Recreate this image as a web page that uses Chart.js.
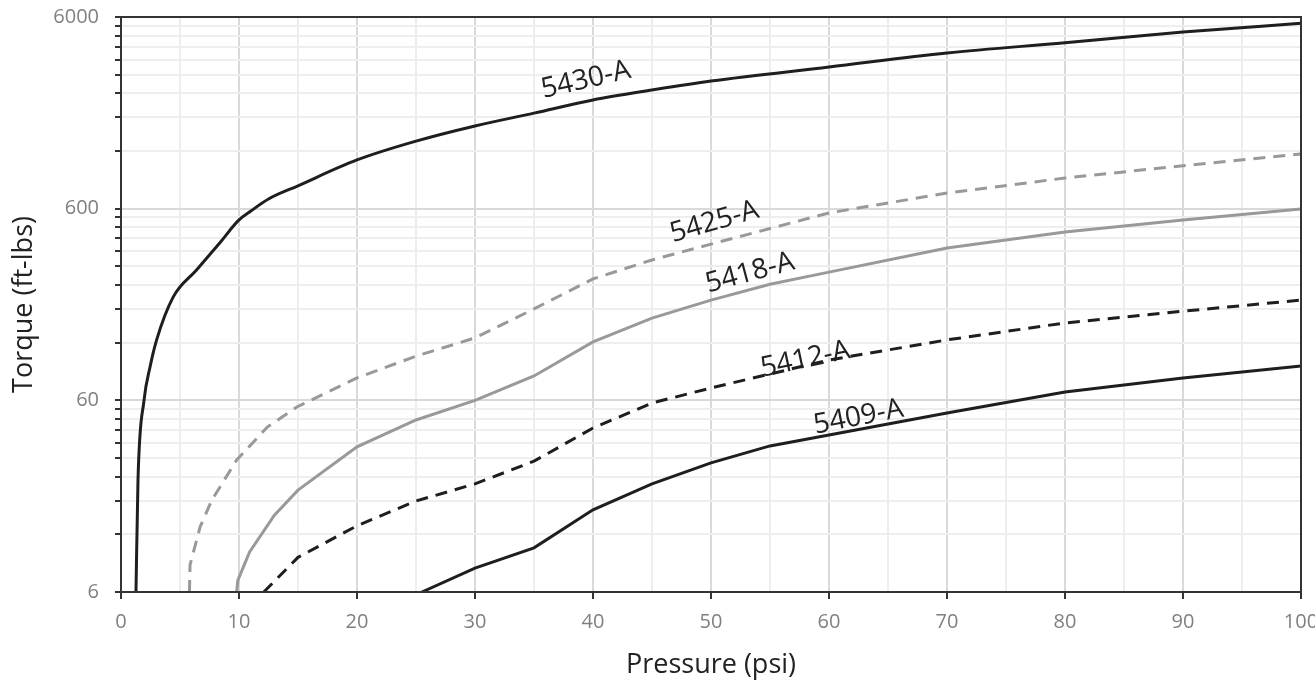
<!DOCTYPE html>
<html lang="en">
<head>
  <meta charset="UTF-8">
  <title>Torque vs Pressure</title>
  <script src="https://cdn.jsdelivr.net/npm/chart.js"></script>
  <style>
    html, body { margin: 0; padding: 0; background: #fff; }
    #wrap { width: 1315px; height: 687px; }
  </style>
</head>
<body>
  <div id="wrap"><canvas id="torqueChart"></canvas></div>

  <script>
    // values (pressure psi -> torque ft-lbs)
    const x5430 = [1.27, 1.44, 1.95, 2.46, 3.02, 4.43, 6.4, 8.4, 10, 11, 12.5, 15, 20, 25, 30, 35, 40, 45, 50, 60, 70, 80, 90, 100];
    const y5430 = [6, 23, 60, 89.5, 124, 208, 287, 400, 524, 583, 674, 790, 1077, 1350, 1620, 1890, 2214, 2496, 2782, 3289, 3893, 4405, 5010, 5563];

    const x5425 = [5.8, 5.85, 6.7, 7.7, 9.8, 12.4, 14.9, 20, 25, 30, 35, 40, 45, 50, 60, 70, 80, 90, 100];
    const y5425 = [6, 8.3, 13.1, 18.1, 29.3, 43.5, 55.4, 78.5, 102, 127, 180, 258, 324, 392, 570, 724, 867, 1005, 1157];

    const x5418 = [9.8, 9.9, 10.9, 13, 15, 20, 25, 30, 35, 40, 45, 50, 55, 60, 70, 80, 90, 100];
    const y5418 = [6, 6.9, 9.7, 15.1, 20.4, 34.3, 47.4, 60, 80.4, 121, 161, 200, 242, 280, 374, 453, 524, 598];

    const x5412 = [12.1, 15, 20, 25, 30, 35, 40, 45, 50, 55, 60, 70, 80, 90, 100];
    const y5412 = [6, 9.1, 13.3, 17.9, 22, 28.9, 43, 58.1, 69.6, 82.3, 97.4, 124, 152, 175, 200];

    const x5409 = [25.5, 30, 35, 40, 45, 50, 55, 60, 70, 80, 90, 100];
    const y5409 = [6, 8.0, 10.2, 16.1, 22, 28.3, 34.7, 39.6, 51.5, 66.3, 78.5, 90.6];

    // curve labels: name, anchor pressure, anchor torque, angle (deg)
    const labelNames = ['5430-A', '5425-A', '5418-A', '5412-A', '5409-A'];
    const labelX = [39.4, 50.3, 53.3, 58, 62.5];
    const labelY = [2814, 511, 277, 98, 49];
    const labelAngle = [-13, -16, -15, -12, -11];

    const xTickStep = 5;
    const yMajor = [6, 60, 600, 6000];

    function pts(xs, ys) {
      return xs.map((x, i) => ({ x: x, y: ys[i] }));
    }

    function isMajorY(v) {
      return yMajor.some(m => Math.abs(m - v) < 1e-6);
    }

    const black = '#1e1e1e';
    const gray = '#999999';
    const fontFam = '"Open Sans", "DejaVu Sans", sans-serif';

    // border around plot area + curve labels
    const extras = {
      id: 'extras',
      afterDatasetsDraw(chart) {
        const ctx = chart.ctx;
        const a = chart.chartArea;
        ctx.save();
        ctx.strokeStyle = '#333';
        ctx.lineWidth = 2;
        ctx.strokeRect(a.left, a.top, a.right - a.left, a.bottom - a.top);

        const xs = chart.scales.x, ys = chart.scales.y;
        ctx.fillStyle = '#222';
        ctx.font = '28px ' + fontFam;
        ctx.textAlign = 'center';
        ctx.textBaseline = 'middle';
        labelNames.forEach((name, i) => {
          ctx.save();
          ctx.translate(xs.getPixelForValue(labelX[i]), ys.getPixelForValue(labelY[i]));
          ctx.rotate(labelAngle[i] * Math.PI / 180);
          ctx.fillText(name, 0, 0);
          ctx.restore();
        });
        ctx.restore();
      }
    };

    const ctx = document.getElementById('torqueChart').getContext('2d');
    new Chart(ctx, {
      type: 'line',
      data: {
        datasets: [
          { label: '5430-A', data: pts(x5430, y5430), borderColor: black, borderWidth: 3, cubicInterpolationMode: 'monotone' },
          { label: '5425-A', data: pts(x5425, y5425), borderColor: gray, borderWidth: 3, borderDash: [12, 8] },
          { label: '5418-A', data: pts(x5418, y5418), borderColor: gray, borderWidth: 3 },
          { label: '5412-A', data: pts(x5412, y5412), borderColor: black, borderWidth: 3, borderDash: [12, 8] },
          { label: '5409-A', data: pts(x5409, y5409), borderColor: black, borderWidth: 3 }
        ]
      },
      options: {
        responsive: true,
        maintainAspectRatio: false,
        animation: false,
        layout: { padding: { top: 17, right: 14, left: 0, bottom: 0 } },
        elements: { point: { radius: 0 }, line: { tension: 0 } },
        plugins: { legend: { display: false }, tooltip: { enabled: false } },
        scales: {
          x: {
            type: 'linear',
            min: 0,
            max: 100,
            afterFit(scale) {
              scale.height = 95;
              scale.paddingLeft = 0;
              scale.paddingRight = 0;
            },
            ticks: {
              stepSize: xTickStep,
              color: '#808080',
              font: { family: fontFam, size: 20 },
              padding: 11,
              maxRotation: 0,
              callback: v => (v % 10 === 0 ? v : '')
            },
            grid: {
              color: c => (c.tick && c.tick.value % 10 === 0 ? '#d9d9d9' : '#eeeeee'),
              lineWidth: 2,
              tickLength: 7,
              tickColor: c => (c.tick && c.tick.value % 10 === 0 ? '#333' : 'rgba(0,0,0,0)'),
              tickWidth: 2
            },
            border: { display: true, color: '#333', width: 2 },
            title: {
              display: true,
              text: 'Pressure (psi)',
              color: '#222',
              font: { family: fontFam, size: 27 },
              padding: { top: 0, bottom: 5 }
            }
          },
          y: {
            type: 'logarithmic',
            min: 6,
            max: 6000,
            afterFit(scale) {
              scale.width = 121;
              scale.paddingTop = 0;
              scale.paddingBottom = 0;
            },
            afterBuildTicks(scale) {
              const t = [];
              yMajor.slice(0, 3).forEach(m => {
                for (let k = 1; k < 10; k++) t.push({ value: m * k });
              });
              t.push({ value: 6000 });
              scale.ticks = t;
            },
            ticks: {
              color: '#808080',
              font: { family: fontFam, size: 20 },
              padding: 16,
              autoSkip: false,
              callback: v => (isMajorY(v) ? String(v) : '')
            },
            grid: {
              color: c => (c.tick && isMajorY(c.tick.value) ? '#d9d9d9' : '#eeeeee'),
              lineWidth: 2,
              tickLength: 6,
              tickColor: '#333',
              tickWidth: 2
            },
            border: { display: true, color: '#333', width: 2 },
            title: {
              display: true,
              text: 'Torque (ft-lbs)',
              color: '#222',
              font: { family: fontFam, size: 27 },
              padding: { top: 8, bottom: 0 }
            }
          }
        }
      },
      plugins: [extras]
    });
  </script>
</body>
</html>
